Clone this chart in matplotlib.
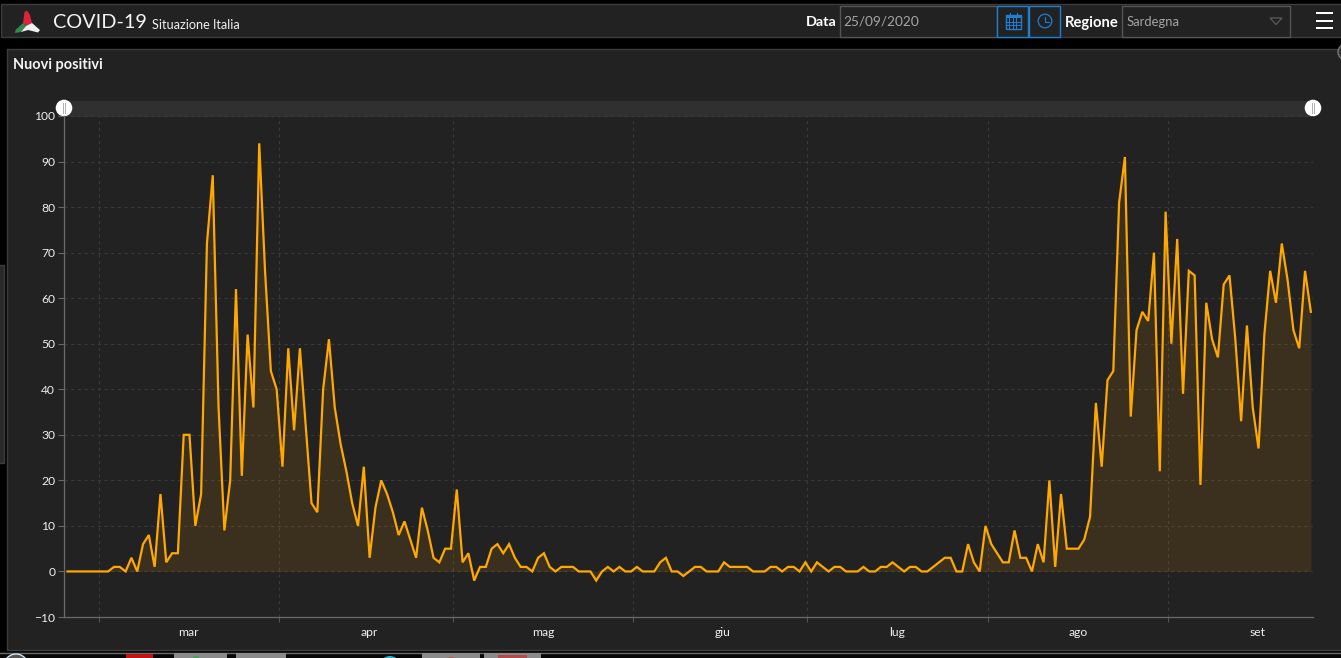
import matplotlib
matplotlib.use("Agg")
import matplotlib.pyplot as plt
from matplotlib.patches import Rectangle, Circle, Polygon

# ---- data ----
nuovi_positivi = [
    0, 0, 0, 0, 0, 0, 0, 0, 1, 1, 0, 3, 0, 6, 8, 1, 17, 2, 4, 4,
    30, 30, 10, 17, 72, 87, 36, 9, 20, 62, 21, 52, 36, 94, 66, 44, 40, 23, 49, 31,
    49, 32, 15, 13, 40, 51, 36, 28, 22, 15, 10, 23, 3, 14, 20, 17, 13, 8, 11, 7,
    3, 14, 9, 3, 2, 5, 5, 18, 2, 4, -2, 1, 1, 5, 6, 4, 6, 3, 1, 1,
    0, 3, 4, 1, 0, 1, 1, 1, 0, 0, 0, -2, 0, 1, 0, 1, 0, 0, 1, 0,
    0, 0, 2, 3, 0, 0, -1, 0, 1, 1, 0, 0, 0, 2, 1, 1, 1, 1, 0, 0,
    0, 1, 1, 0, 1, 1, 0, 2, 0, 2, 1, 0, 1, 1, 0, 0, 0, 1, 0, 0,
    1, 1, 2, 1, 0, 1, 1, 0, 0, 1, 2, 3, 3, 0, 0, 6, 2, 0, 10, 6,
    4, 2, 2, 9, 3, 3, 0, 6, 2, 20, 1, 17, 5, 5, 5, 7, 12, 37, 23, 42,
    44, 81, 91, 34, 53, 57, 55, 70, 22, 79, 50, 73, 39, 66, 65, 19, 59, 51, 47, 63,
    65, 51, 33, 54, 36, 27, 52, 66, 59, 72, 64, 53, 49, 66, 57,
]
giorni = list(range(len(nuovi_positivi)))
mesi = ["mar", "apr", "mag", "giu", "lug", "ago", "set"]
inizio_mese = [5.4, 36.4, 66.4, 97.3, 127.3, 158.4, 189.4]
centro_mese = [20.9, 51.9, 81.9, 112.8, 142.8, 173.9, 204.9]
valori_y = list(range(-10, 101, 10))

W, H = 1341, 658
plt.rcParams["font.family"] = ["Lato", "Open Sans", "DejaVu Sans"]
fig = plt.figure(figsize=(W / 100, H / 100), dpi=100, facecolor="black")

# ---- page furniture, in pixel coordinates ----
bg = fig.add_axes([0, 0, 1, 1])
bg.set_xlim(0, W); bg.set_ylim(H, 0); bg.axis("off")
PANEL = "#222222"; EDGE = "#3d3d3d"

def box(x0, y0, x1, y1, fc=PANEL, ec="none", lw=1, z=1):
    bg.add_patch(Rectangle((x0, y0), x1 - x0, y1 - y0, fc=fc, ec=ec, lw=lw, zorder=z))

box(1, 4, W + 2, 37, ec=EDGE)            # header bar
box(7.5, 48.5, W + 2, 650, ec=EDGE)      # chart panel
box(-2, 265, 4, 463, fc="#2a2a2a", ec=EDGE)  # left sliver

# logo
bg.add_patch(Polygon([(27, 10.5), (24.5, 12), (23, 23), (26, 26), (32, 23), (30, 15)], fc="#d8263a", zorder=3))
bg.add_patch(Polygon([(23, 23), (26, 26), (21, 32), (15, 33), (15.5, 30)], fc="#2f8a4c", zorder=3))
bg.add_patch(Polygon([(26, 26), (32, 23), (40, 30), (38, 32.5), (28, 30), (21, 32)], fc="#f0f0f0", zorder=3))

bg.text(53, 22.5, "COVID-19", color="#f6f6f6", fontsize=14.3, fontweight="normal", va="center", ha="left", zorder=5)
bg.text(152.5, 25, "Situazione Italia", color="#f0f0f0", fontsize=9.1, va="center", ha="left", zorder=5)
bg.text(13.5, 65, "Nuovi positivi", color="#f4f4f4", fontsize=10.45, fontweight="bold", va="center", ha="left", zorder=5)

# date and region controls
bg.text(806, 22.5, "Data", color="white", fontsize=10.4, fontweight="bold", va="center", ha="left", zorder=5)
box(840.5, 5.5, 997, 36.5, ec="#555555")
bg.text(843, 21, "25/09/2020", color="#a5a5a5", fontsize=9.8, va="center", ha="left", zorder=5)
BLUE = "#1e7fd6"
box(997, 5.5, 1028.5, 36.5, ec=BLUE, z=2)
box(1029.5, 5.5, 1060.5, 36.5, ec=BLUE, z=2)
box(1006, 15, 1021, 29, fc="none", ec=BLUE, z=3)
box(1006, 15, 1021, 18, fc=BLUE, z=3)
for px in (1009.5, 1013, 1016.5):
    bg.plot([px, px], [18, 29], color=BLUE, lw=0.7, zorder=3)
for py in (21.5, 25):
    bg.plot([1006, 1021], [py, py], color=BLUE, lw=0.7, zorder=3)
for px in (1010, 1017):
    bg.plot([px, px], [13, 16], color=BLUE, lw=0.8, zorder=3)
bg.add_patch(Circle((1045, 21), 6.8, fc="none", ec=BLUE, lw=0.9, zorder=3))
bg.plot([1045, 1045, 1049], [16.5, 21.5, 21.5], color=BLUE, lw=0.8, zorder=3)
bg.text(1065, 22.5, "Regione", color="white", fontsize=10.6, fontweight="bold", va="center", ha="left", zorder=5)
box(1122.5, 5.5, 1290.5, 36.5, ec="#555555")
bg.text(1127, 22, "Sardegna", color="#a5a5a5", fontsize=9.4, va="center", ha="left", zorder=5)
bg.add_patch(Polygon([(1270, 18), (1282, 18), (1276, 24.5)], fc="none", ec="#5a5a5a", lw=0.9, zorder=3))
for py in (13, 21, 28):
    box(1316, py - 1, 1333, py + 1, fc="white", z=3)
bg.add_patch(Circle((1346, 52), 8, fc="#333333", ec="#777777", lw=1, zorder=3))

# screenshot strip below the panel
box(0, 652, W, H, fc="#070707")
bg.plot([0, W], [652.5, 652.5], color="#6a6a6a", lw=1, zorder=2)
for x0, x1 in ((174, 227), (236, 286), (422, 480), (484, 541)):
    box(x0, 653, x1, H + 2, fc="#8a8a8a", z=2)
box(126, 654, 153, H + 2, fc="#c01515", z=3)
bg.add_patch(Circle((16, 666), 12, fc="#555555", ec="#cfe0ee", lw=1, zorder=3))
bg.add_patch(Circle((390, 667), 11, fc="#27b5c9", zorder=3))
bg.add_patch(Circle((451, 665), 8, fc="#b5533c", zorder=3))
box(498, 655, 527, H + 2, fc="#b34b4b", z=3)
bg.add_patch(Circle((196, 660), 4, fc="#3da35a", zorder=3))

# ---- chart ----
L, R, T, B = 64, 1313, 116, 617
ax = fig.add_axes([L / W, 1 - B / H, (R - L) / W, (B - T) / H])
ax.patch.set_alpha(0)
ax.set_xlim((L - 67.5) / 5.81, (R - 67.5) / 5.81)
ax.set_ylim(-10, 100)

GRID = "#3a3a3a"
ax.set_yticks(valori_y)
ax.set_xticks(inizio_mese)
ax.set_xticklabels([])
ax.set_xticks(centro_mese, minor=True)
ax.set_xticklabels(mesi, minor=True)
ax.grid(True, color=GRID, lw=0.8, linestyle=(0, (2.8, 3.2)), zorder=0)
ax.set_axisbelow(True)
ax.tick_params(axis="y", length=4.3, width=0.8, color="#666666", labelcolor="#efefef", labelsize=8.7, pad=2)
ax.tick_params(axis="x", which="major", length=3.8, width=0.8, color="#555555")
ax.tick_params(axis="x", which="minor", length=0, labelcolor="#efefef", labelsize=8.7, pad=7.5)
for s in ("top", "right"):
    ax.spines[s].set_visible(False)
for s in ("left", "bottom"):
    ax.spines[s].set_color("#6a6a6a")
    ax.spines[s].set_linewidth(0.9)

ax.fill_between(giorni, nuovi_positivi, 0, color="#ffa500", alpha=0.115, lw=0, zorder=2)
ax.plot(giorni, nuovi_positivi, color="#ffa800", lw=1.6, solid_joinstyle="miter", zorder=3, clip_on=False)

# range slider above the plot
box(64, 101, 1313, 117, fc="#303030", z=2)
for cx in (64, 1313):
    bg.add_patch(Circle((cx, 108), 8.3, fc="white", ec="none", zorder=6))
    for dx in (-1.2, 1.2):
        bg.plot([cx + dx, cx + dx], [103, 113], color="#b0b0b0", lw=0.7, zorder=7)

fig.savefig("out.png", dpi=100, facecolor=fig.get_facecolor())
